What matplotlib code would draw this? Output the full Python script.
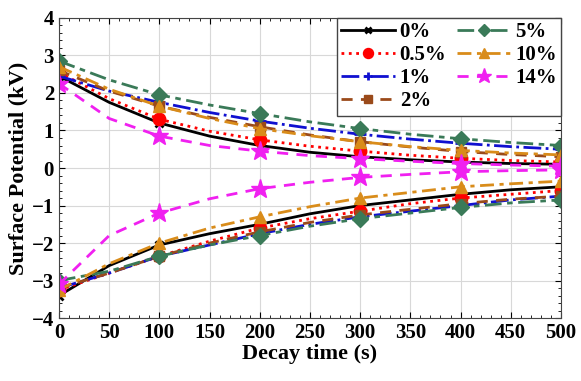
import matplotlib
matplotlib.use("Agg")
from matplotlib import pyplot as plt
from matplotlib.ticker import MultipleLocator

plt.rcParams['font.family'] = ['Liberation Serif', 'DejaVu Serif']
plt.rcParams['font.weight'] = 'bold'

# decay time (s)
t = [0, 50, 100, 150, 200, 250, 300, 350, 400, 450, 500]

labels = ['0%', '0.5%', '1%', '2%', '5%', '10%', '14%']

# positive charging
pos_0 = [2.45, 1.75, 1.2, 0.85, 0.6, 0.42, 0.3, 0.22, 0.16, 0.12, 0.1]
pos_05 = [2.55, 1.85, 1.3, 0.98, 0.75, 0.58, 0.45, 0.34, 0.26, 0.2, 0.16]
pos_1 = [2.45, 2.05, 1.75, 1.48, 1.25, 1.06, 0.9, 0.77, 0.66, 0.57, 0.5]
pos_2 = [2.6, 2.05, 1.65, 1.35, 1.1, 0.88, 0.7, 0.56, 0.44, 0.36, 0.3]
pos_5 = [2.85, 2.35, 1.95, 1.68, 1.45, 1.23, 1.05, 0.9, 0.78, 0.68, 0.6]
pos_10 = [2.7, 2.1, 1.65, 1.32, 1.05, 0.86, 0.7, 0.57, 0.47, 0.4, 0.35]
pos_14 = [2.25, 1.32, 0.85, 0.6, 0.45, 0.33, 0.25, 0.18, 0.12, 0.08, 0.05]

# negative charging
neg_0 = [-3.4, -2.6, -2.05, -1.75, -1.5, -1.22, -1.0, -0.85, -0.7, -0.58, -0.5]
neg_05 = [-3.25, -2.8, -2.35, -1.95, -1.6, -1.35, -1.15, -0.95, -0.8, -0.7, -0.6]
neg_1 = [-3.2, -2.8, -2.35, -2.05, -1.75, -1.5, -1.3, -1.15, -1.0, -0.85, -0.75]
neg_2 = [-3.2, -2.8, -2.35, -2.0, -1.7, -1.45, -1.25, -1.1, -0.95, -0.83, -0.75]
neg_5 = [-3.0, -2.75, -2.35, -2.05, -1.8, -1.55, -1.35, -1.2, -1.05, -0.93, -0.85]
neg_10 = [-3.25, -2.55, -2.0, -1.6, -1.3, -1.03, -0.8, -0.65, -0.5, -0.42, -0.35]
neg_14 = [-3.1, -1.8, -1.2, -0.82, -0.55, -0.38, -0.25, -0.17, -0.1, -0.07, -0.05]

pos = [pos_0, pos_05, pos_1, pos_2, pos_5, pos_10, pos_14]
neg = [neg_0, neg_05, neg_1, neg_2, neg_5, neg_10, neg_14]

styles = [
    dict(color='black', ls='-', marker='x', ms=6, mew=2),
    dict(color='red', ls=':', marker='o', ms=9),
    dict(color='#1010d0', ls='-.', marker='+', ms=8, mew=2),
    dict(color='#9a4a1a', ls=(0, (4, 3)), marker='s', ms=7),
    dict(color='#3a7a58', ls=(0, (6, 2, 2, 2)), marker='D', ms=8),
    dict(color='#d98c1a', ls=(0, (5, 2, 1.5, 2)), marker='^', ms=9),
    dict(color='#f020f0', ls=(0, (4, 3)), marker='*', ms=14),
]

fig = plt.figure(figsize=(5.81, 3.81), dpi=100)
ax = fig.add_axes([0.1015, 0.165, 0.864, 0.788])

for lab, p, n, st in zip(labels, pos, neg, styles):
    ax.plot(t, p, lw=2, markevery=2, label=lab, **st)
    ax.plot(t, n, lw=2, markevery=2, **st)

ax.set_xlim(0, 500)
ax.set_ylim(-4, 4)
ax.xaxis.set_major_locator(MultipleLocator(50))
ax.xaxis.set_minor_locator(MultipleLocator(10))
ax.yaxis.set_major_locator(MultipleLocator(1))
ax.yaxis.set_minor_locator(MultipleLocator(0.2))
ax.tick_params(which='both', direction='in', top=True, right=True, labelsize=15)
ax.tick_params(which='major', length=4)
ax.tick_params(which='minor', length=2)
ax.grid(True, color='#d8d8d8', lw=0.8)
for s in ax.spines.values():
    s.set_color('#444444')

ax.set_xlabel('Decay time (s)', fontsize=16, fontweight='bold', labelpad=1)
ax.set_ylabel('Surface Potential (kV)', fontsize=16, fontweight='bold', labelpad=2)

ax.legend(loc='upper right', ncol=2, frameon=True, fancybox=False,
          edgecolor='#444444', framealpha=1, handlelength=2.6, columnspacing=0.5,
          handletextpad=0.2, labelspacing=0.15, borderpad=0.2, markerscale=0.8,
          borderaxespad=0.0, prop={'weight': 'bold', 'size': 15})

fig.savefig('out.png', dpi=100)
